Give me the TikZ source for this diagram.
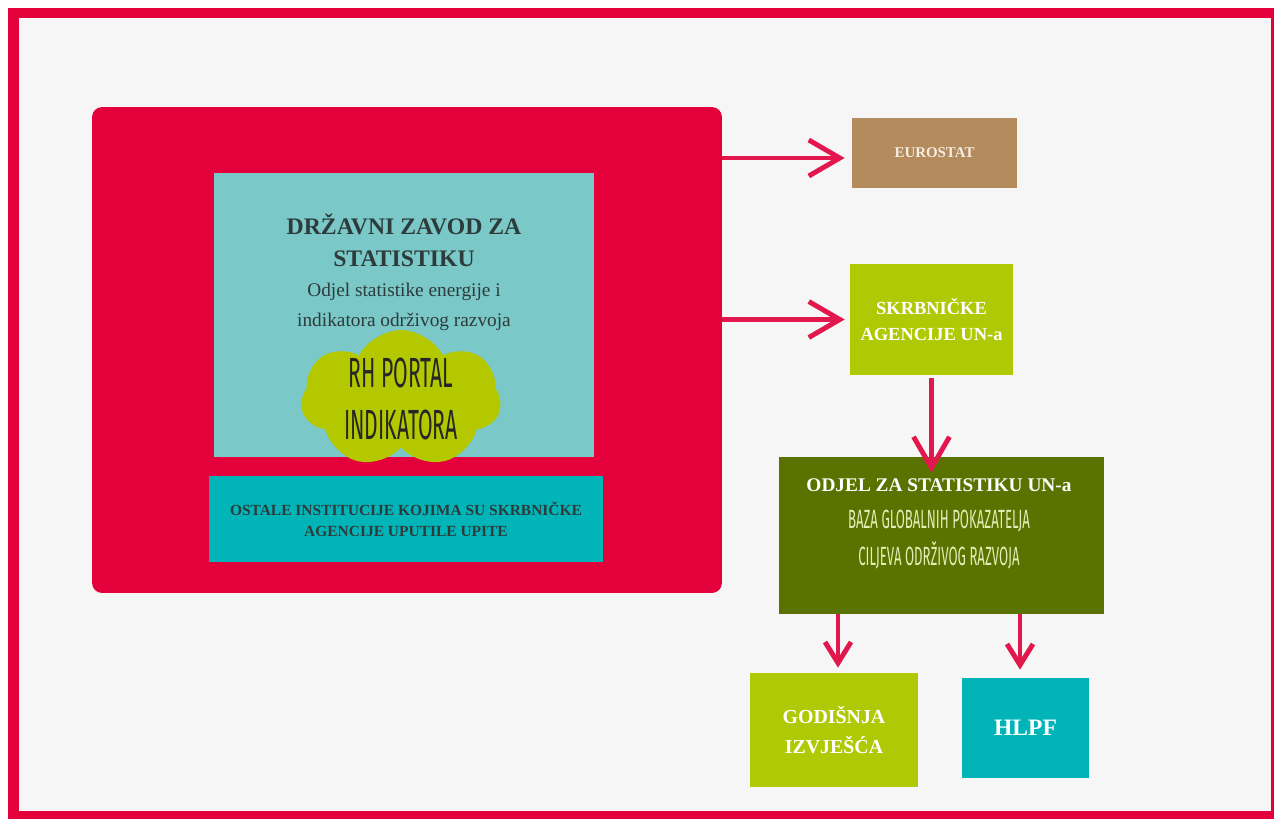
\documentclass[tikz,border=0pt]{standalone}
\usepackage{fontspec}
\setmainfont{Liberation Serif}
\newfontfamily\rukopis[FakeStretch=0.5]{Fira Sans}
\usetikzlibrary{arrows.meta, positioning, shapes.symbols}
\definecolor{okvir}{HTML}{E4003A}
\definecolor{pozadina}{HTML}{F6F6F6}
\definecolor{crvena}{HTML}{E4003A}
\definecolor{svijetlotirkizna}{HTML}{7AC8C8}
\definecolor{tirkizna}{HTML}{00B4B8}
\definecolor{limeta}{HTML}{AFCA05}
\definecolor{oblak}{HTML}{B4C800}
\definecolor{smeda}{HTML}{B38B5C}
\definecolor{maslina}{HTML}{5A7300}
\definecolor{strelica}{HTML}{E2174E}
\definecolor{tamnitekst}{HTML}{2E3B3B}
\definecolor{krem}{HTML}{F5EDE2}
\definecolor{blijeda}{HTML}{E3EDB5}
\newcommand{\naslov}{\fontsize{13.5}{17}\selectfont\bfseries}
\newcommand{\podnaslov}{\rukopis\mdseries\fontsize{15}{21}\selectfont\color{blijeda}}

\begin{document}
\begin{tikzpicture}[x=0.02cm, y=-0.02cm,
			>={Straight Barb[length=0.62cm, width=0.72cm]},
			kutija/.style={rectangle, inner sep=0pt, align=center, font=\bfseries},
			veza/.style={->, draw=strelica, line width=2.8pt},
			kratka/.style={veza, >={Straight Barb[length=0.42cm, width=0.52cm]}}]
			
			% Okvir i pozadina
			\useasboundingbox (0,0) rectangle (1274,819);
			\fill[white] (0,0) rectangle (1274,819);
			\fill[okvir] (8,8) rectangle (1274,819);
			\fill[pozadina] (19,18) rectangle (1271,811);
			
			% --- Lijevi blok: Republika Hrvatska ---
			\node[kutija, fill=crvena, rounded corners=0.2cm, minimum width=12.6cm, minimum height=9.72cm] (rh) at (407,350) {};
			\node[kutija, fill=svijetlotirkizna, minimum width=7.6cm, minimum height=5.68cm] (dzs) at (404,315) {};
			\node[align=center, text=tamnitekst, font=\fontsize{11}{17}\selectfont] (dzstekst) at (404,272)
				{\naslov DRŽAVNI ZAVOD ZA\\[1.5pt] \naslov STATISTIKU\\
				 Odjel statistike energije i\\ indikatora održivog razvoja};
			\node[cloud, cloud puffs=7, cloud puff arc=125, cloud ignores aspect, fill=oblak, inner sep=0pt,
				minimum width=4cm, minimum height=2.76cm] (portal) at (401,399) {};
			\node[align=center, text=black!85, font=\rukopis\fontsize{24}{30}\selectfont] (portaltekst) at (portal.center)
				{RH PORTAL\\ INDIKATORA};
			\node[kutija, fill=tirkizna, minimum width=7.88cm, minimum height=1.72cm, text=tamnitekst,
				font=\bfseries\fontsize{8.8}{12}\selectfont] (ostale) at (406,519)
				{OSTALE INSTITUCIJE KOJIMA SU SKRBNIČKE\\ AGENCIJE UPUTILE UPITE};
			
			% --- Desni dio ---
			\node[kutija, fill=smeda, minimum width=3.3cm, minimum height=1.4cm, text=krem,
				font=\bfseries\fontsize{8.5}{10}\selectfont] (euro) at (934.5,153) {EUROSTAT};
			\node[kutija, fill=limeta, minimum width=3.26cm, minimum height=2.22cm, text=white,
				font=\bfseries\fontsize{10.5}{15}\selectfont] (skrb) at (931.5,319.5) {SKRBNIČKE\\ AGENCIJE UN-a};
			\node[kutija, fill=maslina, minimum width=6.5cm, minimum height=3.14cm] (odjel) at (941.5,535.5) {};
			\node[align=center, text=white, font=\bfseries\fontsize{11}{21}\selectfont] (odjeltekst) at (939,524)
				{ODJEL ZA STATISTIKU UN-a\\
				 \podnaslov BAZA GLOBALNIH POKAZATELJA\\ \podnaslov CILJEVA ODRŽIVOG RAZVOJA};
			\node[kutija, fill=limeta, minimum width=3.36cm, minimum height=2.28cm, text=white,
				font=\bfseries\fontsize{11.3}{17}\selectfont] (god) at (834,730) {GODIŠNJA\\ IZVJEŠĆA};
			\node[kutija, fill=tirkizna, minimum width=2.54cm, minimum height=2cm, text=white,
				font=\bfseries\fontsize{13.4}{16}\selectfont] (hlpf) at (1025.5,728) {HLPF};
			
			% --- Strelice ---
			\coordinate (e1) at ([yshift=-0.1cm]euro.west);
			\coordinate (g1) at ([xshift=0.08cm]god.north);
			\coordinate (h1) at ([xshift=-0.11cm]hlpf.north);
			\draw[veza, shorten >=0.14cm] (rh.east |- e1) -- (e1);
			\draw[veza, shorten >=0.1cm] (rh.east |- skrb.west) -- (skrb.west);
			\draw[veza, shorten <=0.06cm, shorten >=-0.32cm] (skrb.south) -- (skrb.south |- odjel.north);
			\draw[kratka, shorten >=0.1cm] (g1 |- odjel.south) -- (g1);
			\draw[kratka, shorten >=0.16cm] (h1 |- odjel.south) -- (h1);
		\end{tikzpicture}
\end{document}
